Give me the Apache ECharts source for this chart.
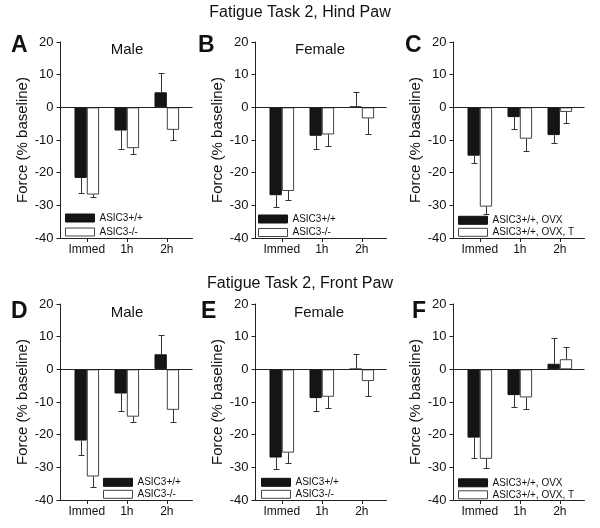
<!DOCTYPE html>
<html>
<head>
<meta charset="utf-8">
<script src="https://cdn.jsdelivr.net/npm/echarts@6/dist/echarts.min.js"></script>
<style>html,body{margin:0;padding:0;background:#fff}#c{width:600px;height:528px}</style>
</head>
<body>
<div id="c"></div>
<script>
// ---- data ----
const categories = ['Immed', '1h', '2h'];
const yTicks = [-40, -30, -20, -10, 0, 10, 20];
const rowTitles = ['Fatigue Task 2, Hind Paw', 'Fatigue Task 2, Front Paw'];
const panelLetters = ['A', 'B', 'C', 'D', 'E', 'F'];
const panelSubtitles = ['Male', 'Female', '', 'Male', 'Female', ''];
const namesKO = ['ASIC3+/+', 'ASIC3-/-'];
const namesOVX = ['ASIC3+/+, OVX', 'ASIC3+/+, OVX, T'];

// Hind paw
const hindMaleWT = [-21.6, -7.1, 4.6];
const hindMaleWTsem = [4.7, 5.7, 6.0];
const hindMaleKO = [-26.7, -12.5, -6.9];
const hindMaleKOsem = [0.7, 1.9, 3.1];
const hindFemaleWT = [-26.9, -8.7, 0.2];
const hindFemaleWTsem = [3.5, 4.0, 4.5];
const hindFemaleKO = [-25.6, -8.3, -3.4];
const hindFemaleKOsem = [2.8, 3.4, 4.8];
const hindOVX = [-14.8, -3.0, -8.5];
const hindOVXsem = [2.3, 3.6, 2.5];
const hindOVXT = [-30.4, -9.6, -1.4];
const hindOVXTsem = [2.2, 3.9, 3.3];
// Front paw
const frontMaleWT = [-21.8, -7.4, 4.6];
const frontMaleWTsem = [4.4, 5.5, 5.8];
const frontMaleKO = [-32.8, -14.5, -12.4];
const frontMaleKOsem = [3.2, 1.6, 3.7];
const frontFemaleWT = [-27.0, -8.8, 0.1];
const frontFemaleWTsem = [3.5, 4.1, 4.6];
const frontFemaleKO = [-25.5, -8.4, -3.6];
const frontFemaleKOsem = [3.1, 3.3, 4.7];
const frontOVX = [-20.9, -7.9, 1.7];
const frontOVXsem = [6.3, 3.7, 7.8];
const frontOVXT = [-27.4, -8.6, 3.1];
const frontOVXTsem = [2.8, 3.6, 3.7];

// ---- layout (positions & styles) ----
const panelData = [
  [hindMaleWT, hindMaleWTsem, hindMaleKO, hindMaleKOsem, namesKO],
  [hindFemaleWT, hindFemaleWTsem, hindFemaleKO, hindFemaleKOsem, namesKO],
  [hindOVX, hindOVXsem, hindOVXT, hindOVXTsem, namesOVX],
  [frontMaleWT, frontMaleWTsem, frontMaleKO, frontMaleKOsem, namesKO],
  [frontFemaleWT, frontFemaleWTsem, frontFemaleKO, frontFemaleKOsem, namesKO],
  [frontOVX, frontOVXsem, frontOVXT, frontOVXTsem, namesOVX]
];
const grids = [
  {left: 60.5, top: 42, width: 132, height: 196},
  {left: 255.5, top: 42, width: 131, height: 196},
  {left: 453.5, top: 42, width: 131, height: 196},
  {left: 60.5, top: 304, width: 132, height: 196},
  {left: 255.5, top: 304, width: 131, height: 196},
  {left: 453.5, top: 304, width: 131, height: 196}
];
const letterPos = [[11, 34], [198, 34], [405, 34], [11, 300], [201, 300], [412, 300]];
const subPos = [[127, 42], [320, 42], null, [127, 305], [319, 305], null];
const legendPos = [[65, 212, 2], [258, 213, 1.5], [458, 214.3, 0], [103, 476.3, 0], [261, 476.3, 0], [458, 476.8, 0]];
const BW = 12.3;          // bar width px
const UNIT = 40;          // px per category step
const FIRST = 26.3;       // px from y-axis to first category center
const FONT = 'Arial, "Liberation Sans", Helvetica, sans-serif';

const option = {
  animation: false,
  backgroundColor: '#fff',
  title: [],
  grid: [],
  xAxis: [],
  yAxis: [],
  legend: [],
  series: []
};

option.title.push({text: rowTitles[0], left: 300, top: 5, textAlign: 'center', padding: 0,
  textStyle: {fontFamily: FONT, fontSize: 16, fontWeight: 'normal', color: '#111'}});
option.title.push({text: rowTitles[1], left: 300, top: 276, textAlign: 'center', padding: 0,
  textStyle: {fontFamily: FONT, fontSize: 16, fontWeight: 'normal', color: '#111'}});

function errRender(side) {
  return function (params, api) {
    const x = api.value(0), v = api.value(1), e = api.value(2);
    const s = v >= 0 ? 1 : -1;
    const p0 = api.coord([x, v]);
    const p1 = api.coord([x, v + s * e]);
    const cx = Math.round(p0[0] + side * BW / 2) + 0.5;
    const y1 = Math.round(p1[1]) + 0.5;
    const st = {stroke: '#333', lineWidth: 1};
    return {type: 'group', children: [
      {type: 'line', shape: {x1: cx, y1: p0[1], x2: cx, y2: y1}, style: st},
      {type: 'line', shape: {x1: cx - 3, y1: y1, x2: cx + 3, y2: y1}, style: st}
    ]};
  };
}

panelData.forEach((pd, i) => {
  const g = grids[i];
  const [a, aSem, b, bSem, names] = pd;
  option.grid.push(Object.assign({containLabel: false}, g));
  const xmin = -FIRST / UNIT;
  const xmax = xmin + g.width / UNIT;
  option.xAxis.push({
    type: 'value', gridIndex: i, min: xmin, max: xmax,
    splitLine: {show: false},
    axisLine: {show: true, onZero: false, lineStyle: {color: '#222', width: 1}},
    axisTick: {show: true, length: 4, customValues: [0, 1, 2], lineStyle: {color: '#222'}},
    axisLabel: {customValues: [0, 1, 2], formatter: v => categories[Math.round(v)] || '',
      fontFamily: FONT, fontSize: 12, color: '#111', margin: 6}
  });
  option.yAxis.push({
    type: 'value', gridIndex: i, min: -40, max: 20, interval: 10,
    splitLine: {show: false},
    axisLine: {show: true, onZero: false, lineStyle: {color: '#222', width: 1}},
    axisTick: {show: true, length: 4, lineStyle: {color: '#222'}},
    axisLabel: {fontFamily: FONT, fontSize: 13, color: '#111', margin: 7},
    name: 'Force (% baseline)', nameLocation: 'middle', nameGap: 30,
    nameTextStyle: {fontFamily: FONT, fontSize: 15, color: '#111'}
  });
  option.title.push({text: panelLetters[i], left: letterPos[i][0], top: letterPos[i][1], padding: 0,
    textStyle: {fontFamily: FONT, fontSize: 23, fontWeight: 'bold', color: '#111'}});
  if (subPos[i]) {
    option.title.push({text: panelSubtitles[i], left: subPos[i][0], top: subPos[i][1], textAlign: 'center', padding: 0,
      textStyle: {fontFamily: FONT, fontSize: 15, fontWeight: 'normal', color: '#111'}});
  }
  const lp = legendPos[i];
  option.legend.push({
    data: names, orient: 'vertical', left: lp[0], top: lp[1], padding: 0, itemGap: lp[2],
    itemWidth: 29, itemHeight: 8, icon: 'rect', selectedMode: false,
    itemStyle: {borderWidth: 1},
    textStyle: {fontFamily: FONT, fontSize: 10, color: '#111', lineHeight: 12}
  });
  const aData = a.map((v, k) => [k, v]);
  const bData = b.map((v, k) => [k, v]);
  option.series.push({
    type: 'bar', name: names[0], xAxisIndex: i, yAxisIndex: i, data: aData,
    barWidth: BW, barGap: '0%',
    itemStyle: {color: '#151515', borderColor: '#111', borderWidth: 1},
    markLine: {silent: true, symbol: ['none', 'none'], label: {show: false},
      lineStyle: {color: '#222', width: 1, type: 'solid'}, data: [{yAxis: 0}]}
  });
  option.series.push({
    type: 'bar', name: names[1], xAxisIndex: i, yAxisIndex: i, data: bData,
    barWidth: BW, barGap: '0%',
    itemStyle: {color: '#fff', borderColor: '#444', borderWidth: 1}
  });
  option.series.push({
    type: 'custom', xAxisIndex: i, yAxisIndex: i, z: 5,
    data: a.map((v, k) => [k, v, aSem[k]]), renderItem: errRender(-1)
  });
  option.series.push({
    type: 'custom', xAxisIndex: i, yAxisIndex: i, z: 5,
    data: b.map((v, k) => [k, v, bSem[k]]), renderItem: errRender(1)
  });
});

const chart = echarts.init(document.getElementById('c'), null, {renderer: 'canvas'});
chart.setOption(option);
</script>
</body>
</html>
